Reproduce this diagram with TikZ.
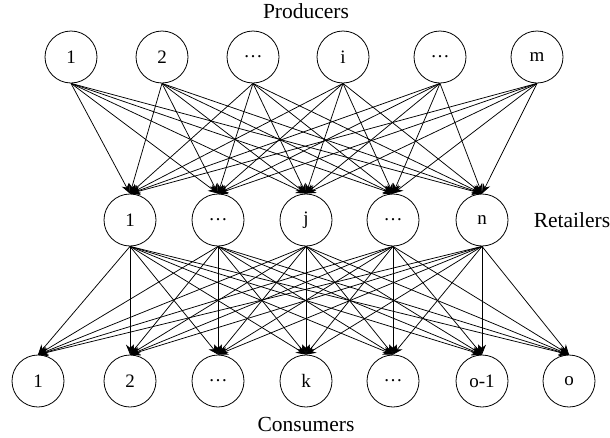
\documentclass[tikz,border=0pt]{standalone}
\usepackage{fontspec}
\setmainfont{Liberation Serif}
\usetikzlibrary{arrows.meta}
\begin{document}
\begin{tikzpicture}[x=1pt,y=-1pt,
  nd/.style={draw,circle,minimum size=52pt,inner sep=0pt,line width=0.8pt,font=\fontsize{19}{22}\selectfont},
  lbl/.style={font=\fontsize{21.5}{24}\selectfont},
  edge/.style={line width=0.75pt,-{Stealth[length=10pt,width=8pt]}}]
\useasboundingbox (0,0) rectangle (610,437);
% producers
\node[nd] (p1) at (71,57) {1};
\node[nd] (p2) at (162,57) {2};
\node[nd] (p3) at (253,57) {\dots};
\node[nd] (p4) at (343,57) {i};
\node[nd] (p5) at (440,57) {\dots};
\node[nd] (p6) at (537,57) {m};
% retailers
\node[nd] (r1) at (130,220) {1};
\node[nd] (r2) at (218,220) {\dots};
\node[nd] (r3) at (306,220) {j};
\node[nd] (r4) at (393,220) {\dots};
\node[nd] (r5) at (482,220) {n};
% consumers
\node[nd] (c1) at (38,381) {1};
\node[nd] (c2) at (130,381) {2};
\node[nd] (c3) at (218,381) {\dots};
\node[nd] (c4) at (306,381) {k};
\node[nd] (c5) at (393,381) {\dots};
\node[nd] (c6) at (482,381) {o-1};
\node[nd] (c7) at (569,381) {o};
% labels
\node[lbl] (lp) at (306,11) {Producers};
\node[lbl] (lr) at (572,220) {Retailers};
\node[lbl] (lc) at (306,424) {Consumers};
% edges
\foreach \s in {1,...,6}{\foreach \t in {1,...,5}{\draw[edge] (p\s.south) -- (r\t.north);}}
\foreach \s in {1,...,5}{\foreach \t in {1,...,7}{\draw[edge] (r\s.south) -- (c\t.north);}}
\end{tikzpicture}
\end{document}
